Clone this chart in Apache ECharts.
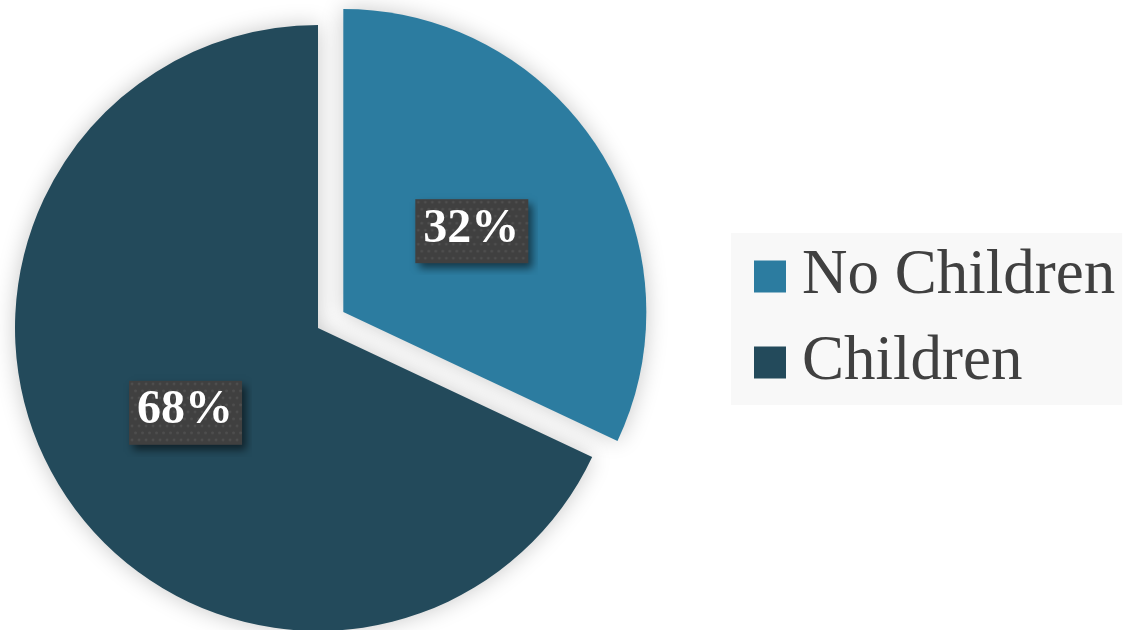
<!DOCTYPE html>
<html>
<head>
<meta charset="utf-8">
<script src="https://cdn.jsdelivr.net/npm/echarts@6/dist/echarts.min.js"></script>
<style>
  html, body { margin: 0; padding: 0; background: #ffffff; }
  #chart { width: 1124px; height: 630px; }
</style>
</head>
<body>
<div id="chart"></div>
<script>
// Share of households with and without children
const categories = ['No Children', 'Children'];
const shares = [32, 68];
const colors = ['#2C7CA0', '#234A5B'];

// Dark dotted plate with a soft drop shadow, drawn behind each percentage label.
// Transparent margins around the plate hold the shadow and nudge the plate
// slightly down and to the left of the slice's label anchor.
const PLATE_W = 113, PLATE_H = 64;
const M_LEFT = 6, M_TOP = 16, M_RIGHT = 10, M_BOTTOM = 12;
function labelPlate() {
  const c = document.createElement('canvas');
  c.width = M_LEFT + PLATE_W + M_RIGHT;
  c.height = M_TOP + PLATE_H + M_BOTTOM;
  const g = c.getContext('2d');
  g.translate(M_LEFT, M_TOP);
  g.save();
  g.shadowColor = 'rgba(0,0,0,0.55)';
  g.shadowBlur = 8;
  g.shadowOffsetX = 4;
  g.shadowOffsetY = 5;
  g.fillStyle = '#404040';
  g.fillRect(0, 0, PLATE_W, PLATE_H);
  g.restore();
  g.fillStyle = 'rgba(255,255,255,0.08)';
  let row = 0;
  for (let y = 3; y < PLATE_H; y += 7, row++) {
    for (let x = (row % 2 ? 6.5 : 3); x < PLATE_W; x += 7) {
      g.beginPath();
      g.arc(x, y, 1.5, 0, Math.PI * 2);
      g.fill();
    }
  }
  return c;
}
const plate = labelPlate();

const chart = echarts.init(document.getElementById('chart'));
chart.setOption({
  backgroundColor: '#ffffff',
  animation: false,
  legend: {
    orient: 'vertical',
    left: 731,
    top: 233,
    backgroundColor: '#f8f8f8',
    padding: [12, 7, 11, 23],
    itemWidth: 32,
    itemHeight: 32,
    itemGap: 23,
    icon: 'rect',
    selectedMode: false,
    textStyle: {
      fontFamily: 'Liberation Serif, Times New Roman, serif',
      fontSize: 63,
      color: '#404040',
      padding: [0, 0, 0, 11]
    },
    data: categories
  },
  series: [{
    type: 'pie',
    center: [318, 328],
    radius: 303,
    startAngle: 90,
    clockwise: true,
    selectedMode: 'single',
    selectedOffset: 30,
    itemStyle: {
      shadowBlur: 22,
      shadowColor: 'rgba(0,0,0,0.22)'
    },
    select: { itemStyle: { shadowBlur: 22, shadowColor: 'rgba(0,0,0,0.22)' } },
    emphasis: { disabled: true },
    label: {
      show: true,
      position: 'inside',
      formatter: '{d}%',
      fontFamily: 'Liberation Serif, Times New Roman, serif',
      fontWeight: 'bold',
      fontSize: 48,
      lineHeight: 46,
      color: '#ffffff',
      width: 94,
      align: 'center',
      overflow: 'none',
      backgroundColor: { image: plate },
      padding: [M_TOP + 10, M_RIGHT + 10, M_BOTTOM + 8, M_LEFT + 9]
    },
    labelLine: { show: false },
    data: categories.map((name, i) => ({
      name: name,
      value: shares[i],
      selected: i === 0,
      itemStyle: { color: colors[i] }
    }))
  }]
});
</script>
</body>
</html>
